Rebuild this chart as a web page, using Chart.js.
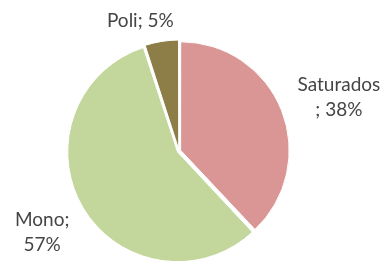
<!DOCTYPE html>
<html>
<head>
<meta charset="utf-8">
<script src="https://cdn.jsdelivr.net/npm/chart.js@4/dist/chart.umd.min.js"></script>
<style>
  body { margin: 0; background: #fff; }
  canvas { display: block; }
</style>
</head>
<body>
<canvas id="fat-chart" width="387" height="264"></canvas>
<script>
const categories = ['Saturados', 'Mono', 'Poli'];
const percentages = [38, 57, 5];
const labelLines = [['Saturados', '; 38%'], ['Mono;', '57%'], ['Poli; 5%']];
const sliceColors = ['#D99694', '#C3D69B', '#8D7D47'];

// where each label sits: distance from centre along the slice's mid angle, plus a small nudge
const labelPlacement = [
    { r: 172, dx: 0, dy: 10 },
    { r: 159, dx: 0, dy: 0 },
    { r: 132, dx: -18, dy: 0 }
];

const pieLabels = {
    id: 'pieLabels',
    afterDatasetsDraw(chart) {
        const ctx = chart.ctx;
        const arcs = chart.getDatasetMeta(0).data;
        ctx.save();
        ctx.font = '19px Lato, "Open Sans", sans-serif';
        ctx.fillStyle = '#454545';
        ctx.textAlign = 'center';
        ctx.textBaseline = 'middle';
        arcs.forEach((arc, i) => {
            const p = labelPlacement[i];
            const mid = (arc.startAngle + arc.endAngle) / 2;
            const x = arc.x + Math.cos(mid) * p.r + p.dx;
            const y = arc.y + Math.sin(mid) * p.r + p.dy;
            const lines = labelLines[i];
            const lh = 25;
            lines.forEach((line, j) => {
                ctx.fillText(line, x, y + (j - (lines.length - 1) / 2) * lh);
            });
        });
        ctx.restore();
    }
};

const ctx = document.getElementById('fat-chart').getContext('2d');
const chart = new Chart(ctx, {
    type: 'pie',
    data: {
        labels: categories,
        datasets: [{
            data: percentages,
            backgroundColor: sliceColors,
            borderColor: '#ffffff',
            borderWidth: 1,
            offset: [7, 7, 7],
            radius: 108
        }]
    },
    options: {
        responsive: false,
        animation: false,
        layout: {
            padding: { left: 0, right: 29, top: 38, bottom: 0 }
        },
        plugins: {
            legend: { display: false },
            tooltip: { enabled: false }
        }
    },
    plugins: [pieLabels]
});
</script>
</body>
</html>
